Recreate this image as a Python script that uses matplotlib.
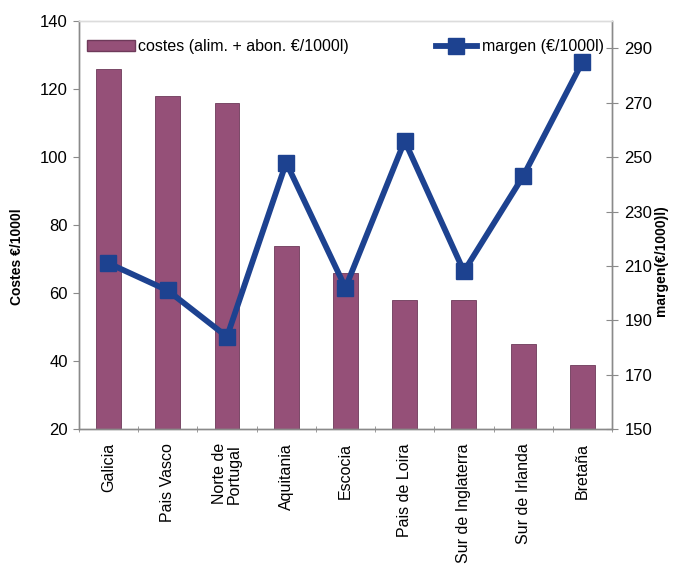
import numpy as np
import matplotlib.pyplot as plt
from matplotlib.lines import Line2D
from matplotlib.patches import Patch

plt.rcParams['font.family'] = ['Liberation Sans', 'DejaVu Sans']

regiones = ["Galicia", "Pais Vasco", "Norte de\nPortugal", "Aquitania", "Escocia",
            "Pais de Loira", "Sur de Inglaterra", "Sur de Irlanda", "Bretaña"]
costes = [126, 118, 116, 74, 66, 58, 58, 45, 39]
margen = [211, 201, 184, 248, 202, 256, 208, 243, 285]

bar_col = "#955078"
line_col = "#1D4290"
axis_col = "#8a8a8a"

fig = plt.figure(figsize=(6.8, 5.73), dpi=100)
ax = fig.add_axes([0.116, 0.251, 0.784, 0.712])
x = np.arange(len(regiones))

# barras de costes (eje izquierdo)
ax.bar(x, costes, width=0.42, color=bar_col, edgecolor="#6e3a5a", linewidth=0.6, zorder=2)
ax.set_xlim(-0.5, len(regiones) - 0.5)
ax.set_ylim(20, 140)
ax.set_yticks(range(20, 141, 20))
ax.set_xticks(x)
ax.set_xticklabels(regiones, rotation=90, fontsize=11.5, linespacing=1.0)
ax.set_xticks(np.arange(-0.5, len(regiones)), minor=True)
ax.tick_params(axis="x", which="major", length=0, pad=10)
ax.tick_params(axis="x", which="minor", length=4, direction="inout", color=axis_col)
ax.tick_params(axis="y", labelsize=12, length=4, color=axis_col, pad=4)

# linea de margen (eje derecho)
ax2 = ax.twinx()
ax2.plot(x, margen, color=line_col, linewidth=4.2, marker="s", markersize=11, zorder=3)
ax2.set_ylim(150, 300)
ax2.set_yticks(range(150, 291, 20))
ax2.tick_params(axis="y", labelsize=12, length=8, direction="inout", color=axis_col, pad=5)

for a in (ax, ax2):
    for s in a.spines.values():
        s.set_color(axis_col)
        s.set_linewidth(1.0)
ax.spines["top"].set_color("#dcdcdc")
ax2.spines["top"].set_color("#dcdcdc")

leg1 = ax2.legend([Patch(facecolor=bar_col, edgecolor="#6e3a5a")],
                  ["costes (alim. + abon. €/1000l)"], loc="upper left",
                  bbox_to_anchor=(0.0, 0.975), frameon=False, fontsize=11.5,
                  handlelength=3.0, handleheight=0.7, handletextpad=0.2, borderaxespad=0.1)
ax2.add_artist(leg1)
ax2.legend([Line2D([0], [0], color=line_col, linewidth=4.2, marker="s", markersize=11)],
           ["margen (€/1000l)"], loc="upper right", bbox_to_anchor=(1.0, 0.975),
           frameon=False, fontsize=11.5, handlelength=2.6, handletextpad=0.3, borderaxespad=0.1)

fig.text(0.025, 0.552, "Costes €/1000l", rotation=90, fontsize=10, fontweight="bold",
         ha="center", va="center")
fig.text(0.972, 0.546, "margen(€/1000)l)", rotation=90, fontsize=10, fontweight="bold",
         ha="center", va="center")

fig.savefig("out.png", dpi=100)
